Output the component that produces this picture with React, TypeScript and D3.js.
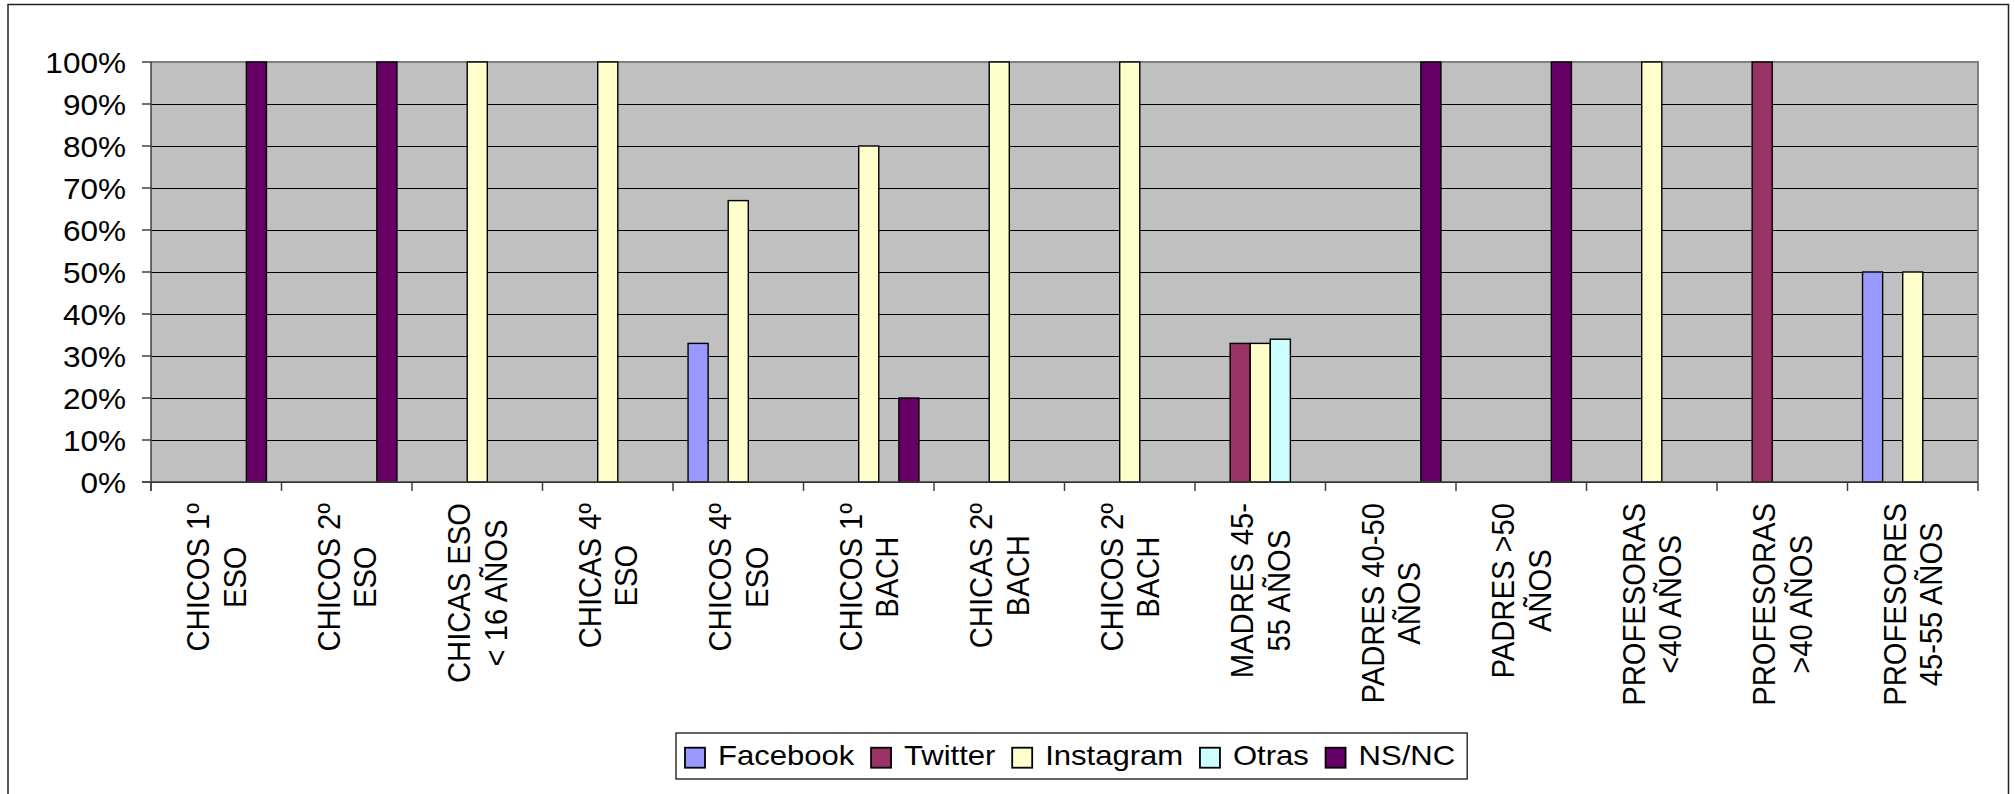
import React from 'react';
import * as d3 from 'd3';

const categoryLines: string[][] = [
  ['CHICOS 1º', 'ESO'],
  ['CHICOS 2º', 'ESO'],
  ['CHICAS ESO', '< 16 AÑOS'],
  ['CHICAS 4º', 'ESO'],
  ['CHICOS 4º', 'ESO'],
  ['CHICOS 1º', 'BACH'],
  ['CHICAS 2º', 'BACH'],
  ['CHICOS 2º', 'BACH'],
  ['MADRES 45-', '55 AÑOS'],
  ['PADRES 40-50', 'AÑOS'],
  ['PADRES >50', 'AÑOS'],
  ['PROFESORAS', '<40 AÑOS'],
  ['PROFESORAS', '>40 AÑOS'],
  ['PROFESORES', '45-55 AÑOS'],
];
const categories = categoryLines.map((l, i) => i + ':' + l.join(' '));

const seriesNames = ['Facebook', 'Twitter', 'Instagram', 'Otras', 'NS/NC'];
const facebook = [0, 0, 0, 0, 0.33, 0, 0, 0, 0, 0, 0, 0, 0, 0.5];
const twitter = [0, 0, 0, 0, 0, 0, 0, 0, 0.33, 0, 0, 0, 1, 0];
const instagram = [0, 0, 1, 1, 0.67, 0.8, 1, 1, 0.33, 0, 0, 1, 0, 0.5];
const otras = [0, 0, 0, 0, 0, 0, 0, 0, 0.34, 0, 0, 0, 0, 0];
const nsnc = [1, 1, 0, 0, 0, 0.2, 0, 0, 0, 1, 1, 0, 0, 0];
const seriesValues = [facebook, twitter, instagram, otras, nsnc];
const seriesColors = ['#9999FF', '#993366', '#FFFFCC', '#CCFFFF', '#660066'];
const yTicks = [0, 0.1, 0.2, 0.3, 0.4, 0.5, 0.6, 0.7, 0.8, 0.9, 1];

const FONT = '"Liberation Sans", Arial, sans-serif';
const AX_FS = 29.2;
const AX_SX = 1.08;
const LG_FS = 27;
const LG_SX = 1.15;

let ctx: CanvasRenderingContext2D | null = null;
function measure(text: string, size: number) {
  if (!ctx) ctx = document.createElement('canvas').getContext('2d');
  if (!ctx) return text.length * size * 0.6;
  ctx.font = `${size}px "Liberation Sans", Arial, sans-serif`;
  return ctx.measureText(text).width;
}

export default function App() {
  const W = 2015;
  const H = 794;
  const plot = { left: 151, right: 1978, top: 62, bottom: 482 };

  const x0 = d3.scaleBand<string>().domain(categories).range([plot.left, plot.right]).paddingInner(0).paddingOuter(0);
  const x1 = d3.scaleBand<string>().domain(seriesNames).range([0, x0.bandwidth()]).paddingInner(0).paddingOuter(0.75);
  const y = d3.scaleLinear().domain([0, 1]).range([plot.bottom, plot.top]);

  const lineH = 36.8;
  const capH = 0.716 * AX_FS * AX_SX;
  const labelTop = 503;

  // legend layout
  const sq = 20;
  const lgItems: { name: string; color: string; sx: number; tx: number }[] = [];
  let cur = 685;
  seriesNames.forEach((n, i) => {
    const tw = measure(n, LG_FS) * LG_SX;
    lgItems.push({ name: n, color: seriesColors[i], sx: cur, tx: cur + sq + 13 });
    cur = cur + sq + 13 + tw + 16.7;
  });
  const lgLeft = 676;
  const lgRight = cur - 16.7 + 12;
  const lgTop = 733;
  const lgBottom = 779;
  const lgMid = 757.7;

  return (
    <svg width={W} height={H} style={{ position: 'absolute', left: 0, top: 0, background: '#fff' }} fontFamily={FONT}>
      <rect x={8} y={4.5} width={2000.5} height={800} fill="#fff" stroke="#222" strokeWidth={1.5} />
      {/* plot area */}
      <rect x={plot.left} y={plot.top} width={plot.right - plot.left} height={plot.bottom - plot.top} fill="#C0C0C0" />
      {yTicks.map((t) => (
        <line key={'g' + t} x1={plot.left} x2={plot.right} y1={Math.round(y(t)) + 0.5} y2={Math.round(y(t)) + 0.5} stroke="#000" strokeWidth={1} />
      ))}
      <path
        d={`M${plot.left},${plot.top}H${plot.right}V${plot.bottom}`}
        fill="none"
        stroke="#808080"
        strokeWidth={2}
      />
      {/* bars */}
      {seriesNames.map((s, si) =>
        categories.map((c, ci) => {
          const v = seriesValues[si][ci];
          if (!v) return null;
          const bx = (x0(c) as number) + (x1(s) as number);
          return (
            <rect
              key={s + c}
              x={bx}
              y={y(v)}
              width={x1.bandwidth()}
              height={y(0) - y(v)}
              fill={seriesColors[si]}
              stroke="#000"
              strokeWidth={1.4}
            />
          );
        })
      )}
      {/* axes */}
      <line x1={plot.left} x2={plot.left} y1={plot.top} y2={plot.bottom + 9} stroke="#404040" strokeWidth={1.5} />
      <line x1={plot.left - 9} x2={plot.right} y1={plot.bottom} y2={plot.bottom} stroke="#404040" strokeWidth={1.5} />
      {yTicks.map((t) => (
        <line key={'yt' + t} x1={plot.left - 9} x2={plot.left} y1={y(t)} y2={y(t)} stroke="#404040" strokeWidth={1.5} />
      ))}
      {categories.map((c) => (
        <line key={'xt' + c} x1={x0(c)} x2={x0(c)} y1={plot.bottom} y2={plot.bottom + 9} stroke="#404040" strokeWidth={1.5} />
      ))}
      <line x1={plot.right} x2={plot.right} y1={plot.bottom} y2={plot.bottom + 9} stroke="#404040" strokeWidth={1.5} />
      {/* y labels */}
      {yTicks.map((t) => (
        <text
          key={'yl' + t}
          transform={`translate(126,${y(t) + 10.5}) scale(${AX_SX},1)`}
          textAnchor="end"
          fontSize={AX_FS}
          fill="#000"
        >
          {d3.format('.0%')(t)}
        </text>
      ))}
      {/* x labels */}
      {categories.map((c, ci) => {
        const lines = categoryLines[ci];
        const cx = (x0(c) as number) + x0.bandwidth() / 2;
        const maxLen = Math.max(...lines.map((l) => measure(l, AX_FS)));
        const yc = labelTop + maxLen / 2;
        const n = lines.length;
        const blockW = (n - 1) * lineH + capH;
        const b1 = cx - blockW / 2 + capH;
        return (
          <g key={'xl' + c}>
            {lines.map((l, li) => (
              <text
                key={li}
                transform={`translate(${b1 + li * lineH},${yc}) scale(${AX_SX},1) rotate(-90)`}
                textAnchor="middle"
                fontSize={AX_FS}
                fill="#000"
              >
                {l}
              </text>
            ))}
          </g>
        );
      })}
      {/* legend */}
      <rect x={lgLeft} y={lgTop} width={lgRight - lgLeft} height={lgBottom - lgTop} fill="#fff" stroke="#000" strokeWidth={1.2} />
      {lgItems.map((it) => (
        <g key={'lg' + it.name}>
          <rect x={it.sx} y={lgMid - sq / 2} width={sq} height={sq} fill={it.color} stroke="#000" strokeWidth={1.8} />
          <text transform={`translate(${it.tx},${lgMid + 7.5}) scale(${LG_SX},1)`} fontSize={LG_FS} fill="#000">
            {it.name}
          </text>
        </g>
      ))}
    </svg>
  );
}
